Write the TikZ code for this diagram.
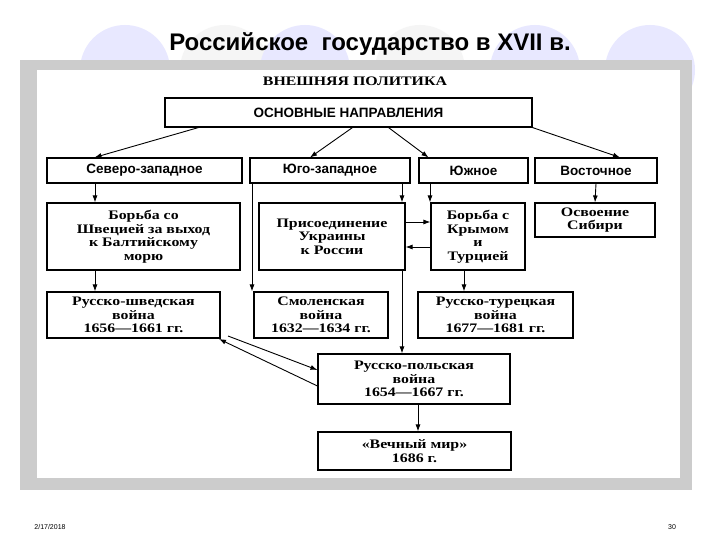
\documentclass[tikz,border=0pt]{standalone}
\usepackage{fontspec}
\setmainfont{Liberation Serif}[FakeStretch=1.22]
\newfontfamily\hsans{Liberation Sans}
\usetikzlibrary{arrows.meta}
\begin{document}
\begin{tikzpicture}[x=1pt,y=-1pt,
  bx/.style={draw,line width=1.1pt,inner sep=1pt,align=center,font=\bfseries\fontsize{13}{13.5}\selectfont},
  hb/.style={bx,font=\hsans\bfseries\fontsize{13.5}{14}\selectfont},
  ar/.style={line width=0.9pt,-{Latex[length=7pt,width=5pt]}}]
\useasboundingbox (0,0) rectangle (720,540);
\fill[white] (0,0) rectangle (720,540);
% decorative circles
\foreach \cx/\c in {125/blue!9, 225/gray!8, 305/blue!9, 420/gray!8, 535/blue!9, 650/blue!9}
  \fill[\c] (\cx,70) circle (45);
\fill[gray!40] (20,60) rectangle (692,490);
\fill[white] (37,70) rectangle (680,478);
\node[font=\hsans\bfseries\fontsize{24}{26}\selectfont] (title) at (370,44) {Российское\ \ государство в XVII в.};
\node[font=\bfseries\fontsize{13}{14}\selectfont] (vp) at (355,81) {ВНЕШНЯЯ ПОЛИТИКА};
\node[hb,minimum width=367,minimum height=29] (on) at (348.5,112.5) {ОСНОВНЫЕ НАПРАВЛЕНИЯ};
\node[hb,minimum width=195,minimum height=25] (sz) at (144.5,170.5) {Северо-западное};
\node[hb,minimum width=160,minimum height=25] (uz) at (330,170.5) {Юго-западное};
\node[hb,minimum width=109,minimum height=25] (ju) at (473.5,170.5) {Южное};
\node[hb,minimum width=122,minimum height=25] (vo) at (596,170.5) {Восточное};
\node[bx,minimum width=193,minimum height=67] (b1) at (143.5,236.5) {Борьба со\\Швецией за выход\\к Балтийскому\\морю};
\node[bx,minimum width=146,minimum height=67] (b2) at (332,236.5) {Присоединение\\Украины\\к России};
\node[bx,minimum width=94,minimum height=67] (b3) at (478,236.5) {Борьба с\\Крымом\\и\\Турцией};
\node[bx,minimum width=120,minimum height=34] (b4) at (595,220) {Освоение\\Сибири};
\node[bx,minimum width=173,minimum height=46] (c1) at (133.5,315) {Русско-шведская\\война\\1656—1661 гг.};
\node[bx,minimum width=134,minimum height=46] (c2) at (321,315) {Смоленская\\война\\1632—1634 гг.};
\node[bx,minimum width=155,minimum height=46] (c3) at (495.5,315) {Русско-турецкая\\война\\1677—1681 гг.};
\node[bx,minimum width=192,minimum height=50] (rp) at (414,379) {Русско-польская\\война\\1654—1667 гг.};
\node[bx,minimum width=193,minimum height=38] (vm) at (414.5,451) {«Вечный мир»\\1686 г.};
% arrows from main box
\draw[ar] ([xshift=-150]on.south) -- ([xshift=-50]sz.north);
\draw[ar] ([xshift=4]on.south) -- ([xshift=-20]uz.north);
\draw[ar] ([xshift=40]on.south) -- ([xshift=-45]ju.north);
\draw[ar] (on.south east) -- ([xshift=24]vo.north);
% verticals
\draw[ar] (sz.south -| 95,0) -- (b1.north -| 95,0);
\draw[ar] (uz.south -| 252,0) -- (c2.north -| 252,0);
\draw[ar] (uz.south -| 402,0) -- (b2.north -| 402,0);
\draw[ar] (ju.south -| 430,0) -- (b3.north -| 430,0);
\draw[ar] (vo.south) -- (b4.north);
\draw[ar] (b1.south -| 95,0) -- (c1.north -| 95,0);
\draw[ar] (b2.south -| 402,0) -- (rp.north -| 402,0);
\draw[ar] (b3.south -| 464,0) -- (c3.north -| 464,0);
\draw[ar] (rp.south -| 418,0) -- (vm.north -| 418,0);
% horizontals
\draw[ar] (b2.east |- 0,222) -- (b3.west |- 0,222);
\draw[ar] (b3.west |- 0,247) -- (b2.east |- 0,247);
% diagonal pair
\coordinate (d1) at (rp.west |- 0,386);
\coordinate (d2) at (219,339);
\coordinate (d3) at (228,336);
\coordinate (d4) at (rp.west |- 0,370);
\draw[ar] (d1) -- (d2);
\draw[ar] (d3) -- (d4);
\node[font=\hsans\fontsize{7}{8}\selectfont] (date) at (50,527) {2/17/2018};
\node[font=\hsans\fontsize{7}{8}\selectfont] (pg) at (672,527) {30};
\end{tikzpicture}
\end{document}
